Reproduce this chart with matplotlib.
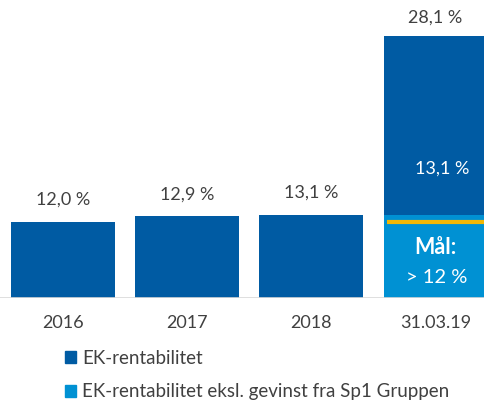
import matplotlib.pyplot as plt
from matplotlib.patches import Patch

plt.rcParams['font.family'] = ['Lato', 'DejaVu Sans']

# data
periods = ['2016', '2017', '2018', '31.03.19']
ek_rent = [12.0, 12.9, 13.1, 28.1]
ek_eksl = 13.1          # last period, excl. gain from Sp1 Gruppen
target = 12.0
labels = ['12,0 %', '12,9 %', '13,1 %', '28,1 %']
eksl_label = '13,1 %'
target_text = ['Mål:', '> 12 %']

dark = '#005BA3'
light = '#0091D3'
yellow = '#F2B705'
grey_txt = '#404040'
fs = 13

fig = plt.figure(figsize=(4.85, 4.01), dpi=100)
ax = fig.add_axes([0, 103 / 401, 1, 298 / 401])

x = list(range(len(periods)))
w = 0.837
# first three bars plain, last bar stacked on the "excl." part
ax.bar(x[:3], ek_rent[:3], width=w, color=dark)
ax.bar(x[3], ek_eksl, width=w, color=light)
ax.bar(x[3], ek_rent[3], bottom=ek_eksl, width=w, color=dark)
ax.hlines(target, x[3] - w / 2 + 0.025, x[3] + w / 2 - 0.01, color=yellow, lw=3)

ax.set_xlim(-0.507, 3.398)
ax.set_ylim(0, 46.86)
ax.axhline(0, color='#D9D9D9', lw=1.2)

for i in range(3):
    ax.annotate(labels[i], (x[i], ek_rent[i]), xytext=(0, 12), textcoords='offset points',
                ha='center', va='baseline', fontsize=fs, color=grey_txt)
ax.annotate(labels[3], (x[3], ek_eksl + ek_rent[3]), xytext=(0, 9.5), textcoords='offset points',
            ha='center', va='baseline', fontsize=fs, color=grey_txt)
ax.annotate(eksl_label, (x[3], ek_eksl), xytext=(5, 29.5), textcoords='offset points',
            ha='center', va='baseline', fontsize=fs, color='white')
ax.annotate(target_text[0], (x[3], target), xytext=(0, -23), textcoords='offset points',
            ha='center', va='baseline', fontsize=15.5, color='white', fontweight='bold')
ax.annotate(target_text[1], (x[3], target), xytext=(1, -44), textcoords='offset points',
            ha='center', va='baseline', fontsize=14.5, color='white')

ax.set_xticks(x, periods)
ax.tick_params(axis='x', length=0, pad=12.5, labelsize=fs, labelcolor=grey_txt)
ax.set_yticks([])
for s in ax.spines.values():
    s.set_visible(False)

handles = [Patch(color=dark), Patch(color=light)]
fig.legend(handles, ['EK-rentabilitet', 'EK-rentabilitet eksl. gevinst fra Sp1 Gruppen'],
           loc='upper left', bbox_to_anchor=(65 / 485, 1 - 349.5 / 401), frameon=False,
           fontsize=13.5, labelcolor=grey_txt, handlelength=0.6, handleheight=0.6,
           handletextpad=0.3, labelspacing=0.9, borderpad=0, borderaxespad=0)

fig.savefig('out.png', dpi=100)
